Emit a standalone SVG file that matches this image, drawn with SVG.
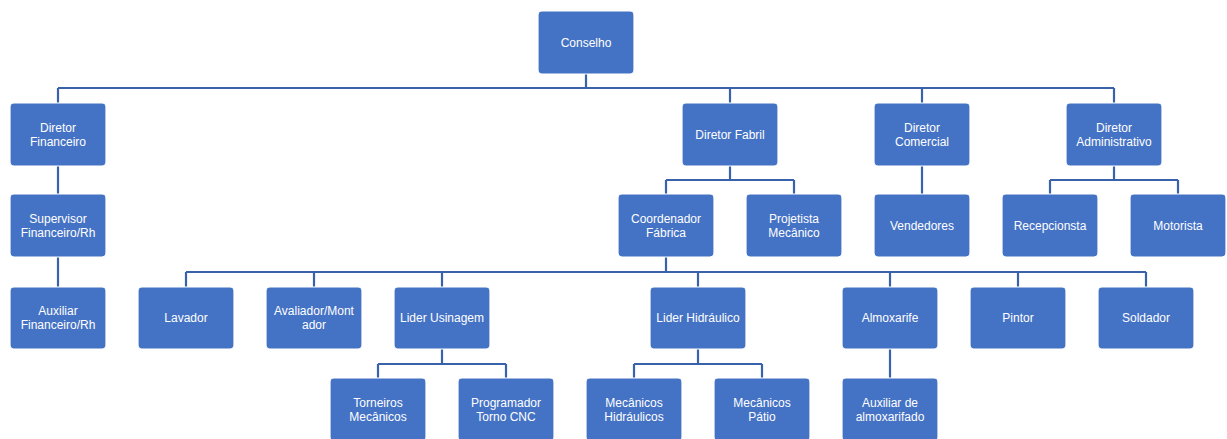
<svg xmlns="http://www.w3.org/2000/svg" width="1227" height="439" viewBox="0 0 1227 439">
<style>
.n rect{fill:#4472C4;stroke:#FFFFFF;stroke-width:1.2}
.n text{fill:#FFFFFF;font-family:"Liberation Sans",Arial,sans-serif;font-size:12px;text-anchor:middle}
#connectors path{fill:none;stroke:#3A62AA;stroke-width:2.2}
</style>
<rect width="1227" height="439" fill="#FFFFFF"/>
<g id="connectors">
<path d="M586 74V88M58 88H1114M58 88V103M730 88V103M922 88V103M1114 88V103"/>
<path d="M58 166V194M58 257V287"/>
<path d="M730 166V180M666 180H794M666 180V194M794 180V194"/>
<path d="M922 166V194"/>
<path d="M1114 166V180M1050 180H1178M1050 180V194M1178 180V194"/>
<path d="M666 257V272M186 272H1146M186 272V287M314 272V287M442 272V287M698 272V287M890 272V287M1018 272V287M1146 272V287"/>
<path d="M442 349V364M378 364H506M378 364V378M506 364V378"/>
<path d="M698 349V364M634 364H762M634 364V378M762 364V378"/>
<path d="M890 349V378"/>
</g>
<g id="conselho" class="n"><rect x="538" y="11" width="96" height="63" rx="4"/><text x="586" y="46.5">Conselho</text></g>
<g id="diretor-financeiro" class="n"><rect x="10" y="103" width="96" height="63" rx="4"/><text x="58" y="131.5">Diretor</text><text x="58" y="145.5">Financeiro</text></g>
<g id="diretor-fabril" class="n"><rect x="682" y="103" width="96" height="63" rx="4"/><text x="730" y="138.5">Diretor Fabril</text></g>
<g id="diretor-comercial" class="n"><rect x="874" y="103" width="96" height="63" rx="4"/><text x="922" y="131.5">Diretor</text><text x="922" y="145.5">Comercial</text></g>
<g id="diretor-administrativo" class="n"><rect x="1066" y="103" width="96" height="63" rx="4"/><text x="1114" y="131.5">Diretor</text><text x="1114" y="145.5">Administrativo</text></g>
<g id="supervisor-financeiro" class="n"><rect x="10" y="194" width="96" height="63" rx="4"/><text x="58" y="222.5">Supervisor</text><text x="58" y="236.5">Financeiro/Rh</text></g>
<g id="coordenador-fabrica" class="n"><rect x="618" y="194" width="96" height="63" rx="4"/><text x="666" y="222.5">Coordenador</text><text x="666" y="236.5">Fábrica</text></g>
<g id="projetista" class="n"><rect x="746" y="194" width="96" height="63" rx="4"/><text x="794" y="222.5">Projetista</text><text x="794" y="236.5">Mecânico</text></g>
<g id="vendedores" class="n"><rect x="874" y="194" width="96" height="63" rx="4"/><text x="922" y="229.5">Vendedores</text></g>
<g id="recepcionsta" class="n"><rect x="1002" y="194" width="96" height="63" rx="4"/><text x="1050" y="229.5">Recepcionsta</text></g>
<g id="motorista" class="n"><rect x="1130" y="194" width="96" height="63" rx="4"/><text x="1178" y="229.5">Motorista</text></g>
<g id="auxiliar-financeiro" class="n"><rect x="10" y="287" width="96" height="62" rx="4"/><text x="58" y="315">Auxiliar</text><text x="58" y="329">Financeiro/Rh</text></g>
<g id="lavador" class="n"><rect x="138" y="287" width="96" height="62" rx="4"/><text x="186" y="322">Lavador</text></g>
<g id="avaliador" class="n"><rect x="266" y="287" width="96" height="62" rx="4"/><text x="314" y="315">Avaliador/Mont</text><text x="314" y="329">ador</text></g>
<g id="lider-usinagem" class="n"><rect x="394" y="287" width="96" height="62" rx="4"/><text x="442" y="322">Lider Usinagem</text></g>
<g id="lider-hidraulico" class="n"><rect x="650" y="287" width="96" height="62" rx="4"/><text x="698" y="322">Lider Hidráulico</text></g>
<g id="almoxarife" class="n"><rect x="842" y="287" width="96" height="62" rx="4"/><text x="890" y="322">Almoxarife</text></g>
<g id="pintor" class="n"><rect x="970" y="287" width="96" height="62" rx="4"/><text x="1018" y="322">Pintor</text></g>
<g id="soldador" class="n"><rect x="1098" y="287" width="96" height="62" rx="4"/><text x="1146" y="322">Soldador</text></g>
<g id="torneiros" class="n"><rect x="330" y="378" width="96" height="63" rx="4"/><text x="378" y="406.5">Torneiros</text><text x="378" y="420.5">Mecânicos</text></g>
<g id="programador" class="n"><rect x="458" y="378" width="96" height="63" rx="4"/><text x="506" y="406.5">Programador</text><text x="506" y="420.5">Torno CNC</text></g>
<g id="mecanicos-hidraulicos" class="n"><rect x="586" y="378" width="96" height="63" rx="4"/><text x="634" y="406.5">Mecânicos</text><text x="634" y="420.5">Hidráulicos</text></g>
<g id="mecanicos-patio" class="n"><rect x="714" y="378" width="96" height="63" rx="4"/><text x="762" y="406.5">Mecânicos</text><text x="762" y="420.5">Pátio</text></g>
<g id="auxiliar-almoxarifado" class="n"><rect x="842" y="378" width="96" height="63" rx="4"/><text x="890" y="406.5">Auxiliar de</text><text x="890" y="420.5">almoxarifado</text></g>
</svg>
